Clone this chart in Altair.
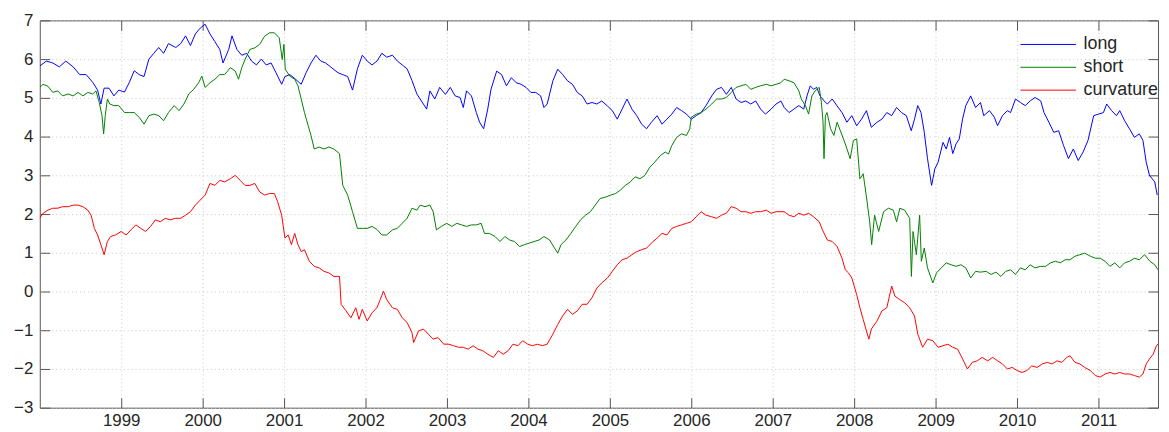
import altair as alt
import pandas as pd

# ---------------- data (decimal years) ----------------
long_t = [1998.00, 1998.08, 1998.16, 1998.24, 1998.32, 1998.41, 1998.49, 1998.57, 1998.65, 1998.71,
          1998.75, 1998.79, 1998.85, 1998.91, 1998.97, 1999.04, 1999.10, 1999.16, 1999.22, 1999.28,
          1999.34, 1999.40, 1999.46, 1999.52, 1999.58, 1999.67, 1999.73, 1999.79, 1999.85, 1999.91,
          1999.97, 2000.03, 2000.09, 2000.15, 2000.21, 2000.25, 2000.32, 2000.36, 2000.42, 2000.48,
          2000.54, 2000.60, 2000.66, 2000.72, 2000.78, 2000.84, 2000.90, 2000.97, 2001.01, 2001.07,
          2001.13, 2001.21, 2001.27, 2001.33, 2001.39, 2001.45, 2001.51, 2001.57, 2001.66, 2001.72,
          2001.78, 2001.84, 2001.90, 2001.96, 2002.02, 2002.08, 2002.14, 2002.20, 2002.26, 2002.33,
          2002.39, 2002.45, 2002.51, 2002.57, 2002.63, 2002.71, 2002.75, 2002.79, 2002.85, 2002.91,
          2002.98, 2003.04, 2003.10, 2003.16, 2003.20, 2003.24, 2003.30, 2003.36, 2003.40, 2003.45,
          2003.50, 2003.54, 2003.61, 2003.67, 2003.73, 2003.79, 2003.85, 2003.91, 2003.97, 2004.03,
          2004.09, 2004.15, 2004.19, 2004.23, 2004.30, 2004.36, 2004.42, 2004.48, 2004.54, 2004.60,
          2004.66, 2004.72, 2004.78, 2004.84, 2004.90, 2004.97, 2005.03, 2005.09, 2005.15, 2005.21,
          2005.27, 2005.33, 2005.39, 2005.45, 2005.51, 2005.58, 2005.64, 2005.70, 2005.76, 2005.82,
          2005.88, 2005.94, 2006.00, 2006.06, 2006.12, 2006.18, 2006.25, 2006.31, 2006.37, 2006.43,
          2006.49, 2006.55, 2006.61, 2006.67, 2006.73, 2006.79, 2006.85, 2006.91, 2006.98, 2007.04,
          2007.10, 2007.14, 2007.20, 2007.26, 2007.32, 2007.38, 2007.42, 2007.46, 2007.50, 2007.54,
          2007.58, 2007.63, 2007.67, 2007.73, 2007.79, 2007.85, 2007.91, 2007.97, 2008.03, 2008.09,
          2008.15, 2008.21, 2008.28, 2008.34, 2008.40, 2008.46, 2008.52, 2008.58, 2008.64, 2008.70,
          2008.74, 2008.78, 2008.82, 2008.86, 2008.90, 2008.95, 2008.99, 2009.03, 2009.09, 2009.13,
          2009.17, 2009.21, 2009.25, 2009.29, 2009.33, 2009.37, 2009.43, 2009.49, 2009.55, 2009.59,
          2009.66, 2009.72, 2009.76, 2009.82, 2009.88, 2009.92, 2009.98, 2010.04, 2010.10, 2010.16,
          2010.22, 2010.29, 2010.33, 2010.39, 2010.45, 2010.51, 2010.57, 2010.63, 2010.69, 2010.75,
          2010.81, 2010.87, 2010.94, 2011.00, 2011.06, 2011.10, 2011.16, 2011.22, 2011.26, 2011.32,
          2011.38, 2011.44, 2011.50, 2011.545, 2011.585, 2011.625, 2011.69, 2011.72]
long_v = [5.82, 5.95, 5.90, 5.80, 5.95, 5.80, 5.60, 5.60, 5.40, 5.20,
          4.84, 5.25, 5.25, 5.05, 5.20, 5.15, 5.40, 5.70, 5.60, 5.55,
          6.00, 6.15, 6.30, 6.15, 6.40, 6.30, 6.40, 6.60, 6.35, 6.65,
          6.80, 6.90, 6.65, 6.45, 6.25, 5.90, 6.25, 6.60, 6.25, 6.10,
          6.15, 5.95, 5.85, 6.00, 5.85, 5.90, 5.65, 5.35, 5.55, 5.60,
          5.50, 5.35, 5.65, 5.90, 6.10, 5.95, 5.90, 5.80, 5.65, 5.60,
          5.55, 5.20, 5.75, 6.10, 5.95, 5.85, 5.95, 6.15, 6.05, 6.10,
          5.95, 5.85, 5.75, 5.45, 5.10, 4.84, 4.71, 5.18, 4.97, 5.27,
          5.09, 5.27, 5.05, 5.01, 4.75, 5.18, 5.05, 4.62, 4.37, 4.20,
          4.71, 5.22, 5.69, 5.60, 5.31, 5.52, 5.39, 5.35, 5.27, 5.14,
          5.14, 5.05, 4.75, 4.84, 5.44, 5.74, 5.60, 5.44, 5.35, 5.14,
          5.05, 4.84, 4.88, 4.84, 4.92, 4.79, 4.67, 4.45, 4.71, 4.97,
          4.71, 4.54, 4.32, 4.20, 4.37, 4.54, 4.32, 4.45, 4.58, 4.75,
          4.67, 4.58, 4.45, 4.54, 4.62, 4.80, 5.05, 5.22, 5.27, 5.09,
          5.27, 4.97, 4.88, 4.92, 4.84, 4.92, 4.71, 4.58, 4.71, 4.84,
          4.92, 4.75, 4.62, 4.71, 4.80, 4.71, 5.05, 5.31, 5.22, 5.27,
          5.05, 4.92, 4.84, 4.97, 4.79, 4.62, 4.37, 4.54, 4.28, 4.45,
          4.67, 4.24, 4.37, 4.45, 4.62, 4.54, 4.75, 4.62, 4.54, 4.15,
          4.45, 4.80, 4.62, 4.11, 3.43, 2.74, 3.17, 3.34, 3.85, 3.68,
          3.98, 3.56, 3.81, 3.94, 4.45, 4.80, 5.05, 4.75, 4.88, 4.54,
          4.67, 4.50, 4.28, 4.54, 4.67, 4.62, 4.97, 4.88, 4.80, 4.92,
          5.01, 4.92, 4.62, 4.37, 4.11, 4.15, 3.77, 3.43, 3.68, 3.38,
          3.60, 3.90, 4.54, 4.58, 4.62, 4.84, 4.67, 4.54, 4.67, 4.41,
          4.20, 3.98, 4.07, 3.90, 3.34, 3.00, 2.83, 2.49]

short_t = [1998.00, 1998.04, 1998.10, 1998.16, 1998.22, 1998.28, 1998.35, 1998.41, 1998.47, 1998.53,
           1998.59, 1998.65, 1998.69, 1998.73, 1998.764, 1998.784, 1998.804, 1998.83, 1998.86, 1998.91,
           1998.97, 1999.04, 1999.10, 1999.16, 1999.22, 1999.28, 1999.34, 1999.40, 1999.46, 1999.52,
           1999.58, 1999.65, 1999.71, 1999.77, 1999.83, 1999.89, 1999.95, 1999.99, 2000.03, 2000.09,
           2000.15, 2000.21, 2000.27, 2000.34, 2000.40, 2000.44, 2000.48, 2000.52, 2000.58, 2000.64,
           2000.70, 2000.76, 2000.82, 2000.88, 2000.94, 2000.977, 2000.998, 2001.014, 2001.07, 2001.13,
           2001.17, 2001.21, 2001.25, 2001.29, 2001.33, 2001.37, 2001.43, 2001.49, 2001.55, 2001.61,
           2001.68, 2001.72, 2001.78, 2001.84, 2001.90, 2001.96, 2002.02, 2002.08, 2002.14, 2002.20,
           2002.26, 2002.33, 2002.39, 2002.45, 2002.51, 2002.57, 2002.63, 2002.67, 2002.73, 2002.79,
           2002.83, 2002.87, 2002.93, 2002.996, 2003.06, 2003.12, 2003.18, 2003.24, 2003.30, 2003.36,
           2003.42, 2003.46, 2003.52, 2003.59, 2003.65, 2003.71, 2003.77, 2003.83, 2003.89, 2003.95,
           2004.01, 2004.07, 2004.13, 2004.19, 2004.26, 2004.32, 2004.36, 2004.40, 2004.46, 2004.52,
           2004.58, 2004.64, 2004.70, 2004.76, 2004.82, 2004.88, 2004.95, 2005.01, 2005.07, 2005.13,
           2005.19, 2005.25, 2005.31, 2005.37, 2005.43, 2005.49, 2005.55, 2005.62, 2005.68, 2005.72,
           2005.76, 2005.82, 2005.88, 2005.94, 2005.98, 2006.00, 2006.06, 2006.12, 2006.18, 2006.25,
           2006.31, 2006.37, 2006.43, 2006.49, 2006.55, 2006.61, 2006.67, 2006.73, 2006.79, 2006.85,
           2006.92, 2006.98, 2007.04, 2007.10, 2007.14, 2007.20, 2007.26, 2007.32, 2007.35, 2007.40,
           2007.44, 2007.48, 2007.52, 2007.57, 2007.597, 2007.617, 2007.629, 2007.646, 2007.666, 2007.71,
           2007.75, 2007.79, 2007.83, 2007.89, 2007.95, 2007.99, 2008.03, 2008.07, 2008.11, 2008.15,
           2008.19, 2008.214, 2008.25, 2008.30, 2008.36, 2008.42, 2008.48, 2008.52, 2008.56, 2008.62,
           2008.681, 2008.702, 2008.722, 2008.763, 2008.803, 2008.824, 2008.86, 2008.90, 2008.965, 2009.01,
           2009.07, 2009.13, 2009.19, 2009.25, 2009.31, 2009.37, 2009.43, 2009.49, 2009.55, 2009.62,
           2009.68, 2009.74, 2009.80, 2009.86, 2009.92, 2009.98, 2010.04, 2010.10, 2010.16, 2010.22,
           2010.29, 2010.35, 2010.41, 2010.47, 2010.53, 2010.59, 2010.65, 2010.71, 2010.77, 2010.83,
           2010.90, 2010.96, 2011.02, 2011.08, 2011.14, 2011.20, 2011.26, 2011.32, 2011.38, 2011.44,
           2011.50, 2011.565, 2011.63, 2011.69, 2011.73]
short_v = [5.27, 5.35, 5.30, 5.14, 5.18, 5.05, 5.10, 5.05, 5.14, 5.05,
           5.14, 5.10, 5.18, 4.88, 4.54, 4.07, 4.54, 4.97, 4.84, 4.80,
           4.80, 4.62, 4.62, 4.62, 4.50, 4.32, 4.54, 4.58, 4.54, 4.41,
           4.62, 4.80, 4.67, 4.84, 5.10, 5.22, 5.39, 5.56, 5.27, 5.39,
           5.48, 5.60, 5.60, 5.78, 5.69, 5.48, 5.78, 5.99, 6.25, 6.29,
           6.38, 6.59, 6.68, 6.68, 6.55, 5.99, 6.38, 5.74, 5.56, 5.48,
           5.31, 4.97, 4.62, 4.32, 4.03, 3.68, 3.73, 3.68, 3.73, 3.68,
           3.56, 2.74, 2.49, 2.06, 1.63, 1.63, 1.63, 1.68, 1.60, 1.46,
           1.46, 1.59, 1.63, 1.76, 1.89, 2.15, 2.10, 2.23, 2.19, 2.23,
           2.06, 1.59, 1.68, 1.76, 1.68, 1.76, 1.72, 1.68, 1.72, 1.72,
           1.76, 1.50, 1.50, 1.42, 1.29, 1.42, 1.33, 1.29, 1.16, 1.21,
           1.25, 1.29, 1.33, 1.42, 1.33, 1.12, 0.99, 1.21, 1.33, 1.50,
           1.68, 1.85, 1.97, 2.06, 2.23, 2.40, 2.44, 2.49, 2.53, 2.62,
           2.74, 2.83, 2.96, 2.91, 3.00, 3.21, 3.34, 3.51, 3.60, 3.55,
           3.77, 3.98, 4.07, 4.03, 4.20, 4.50, 4.58, 4.62, 4.71, 4.84,
           4.97, 4.97, 5.01, 5.14, 5.27, 5.31, 5.35, 5.22, 5.27, 5.31,
           5.35, 5.31, 5.35, 5.39, 5.48, 5.44, 5.39, 5.18, 4.97, 4.80,
           4.58, 5.05, 5.18, 5.27, 4.88, 4.37, 3.43, 4.54, 4.62, 4.20,
           4.03, 4.37, 4.15, 3.81, 3.43, 3.90, 3.94, 2.91, 3.04, 2.44,
           1.80, 1.21, 1.97, 1.55, 2.06, 2.15, 2.10, 1.80, 2.15, 2.10,
           1.89, 0.39, 1.55, 0.95, 1.97, 0.78, 1.12, 0.61, 0.22, 0.48,
           0.61, 0.74, 0.69, 0.65, 0.69, 0.61, 0.35, 0.52, 0.50, 0.52,
           0.44, 0.50, 0.39, 0.52, 0.56, 0.44, 0.61, 0.56, 0.69, 0.61,
           0.65, 0.65, 0.74, 0.78, 0.74, 0.82, 0.82, 0.91, 0.95, 0.99,
           0.91, 0.86, 0.86, 0.78, 0.65, 0.74, 0.61, 0.74, 0.78, 0.86,
           0.82, 0.95, 0.78, 0.69, 0.56]

curv_t = [1998.00, 1998.04, 1998.10, 1998.16, 1998.22, 1998.28, 1998.35, 1998.41, 1998.47, 1998.53,
          1998.59, 1998.63, 1998.67, 1998.71, 1998.75, 1998.79, 1998.83, 1998.87, 1998.93, 1999.00,
          1999.06, 1999.12, 1999.18, 1999.24, 1999.30, 1999.36, 1999.42, 1999.48, 1999.54, 1999.60,
          1999.67, 1999.73, 1999.79, 1999.85, 1999.91, 1999.97, 2000.03, 2000.09, 2000.15, 2000.21,
          2000.27, 2000.34, 2000.40, 2000.46, 2000.52, 2000.58, 2000.64, 2000.70, 2000.76, 2000.82,
          2000.88, 2000.92, 2000.97, 2001.01, 2001.05, 2001.09, 2001.13, 2001.17, 2001.21, 2001.25,
          2001.31, 2001.37, 2001.43, 2001.49, 2001.55, 2001.61, 2001.68, 2001.70, 2001.76, 2001.82,
          2001.88, 2001.92, 2001.96, 2002.02, 2002.08, 2002.14, 2002.18, 2002.22, 2002.26, 2002.33,
          2002.39, 2002.45, 2002.51, 2002.57, 2002.59, 2002.65, 2002.71, 2002.77, 2002.83, 2002.89,
          2002.96, 2003.02, 2003.08, 2003.14, 2003.20, 2003.26, 2003.32, 2003.38, 2003.44, 2003.50,
          2003.57, 2003.63, 2003.69, 2003.75, 2003.81, 2003.87, 2003.93, 2003.99, 2004.05, 2004.11,
          2004.17, 2004.23, 2004.30, 2004.36, 2004.42, 2004.48, 2004.54, 2004.60, 2004.66, 2004.72,
          2004.78, 2004.84, 2004.90, 2004.97, 2005.03, 2005.09, 2005.15, 2005.21, 2005.27, 2005.33,
          2005.39, 2005.45, 2005.51, 2005.58, 2005.64, 2005.70, 2005.76, 2005.82, 2005.88, 2005.94,
          2006.00, 2006.06, 2006.12, 2006.18, 2006.25, 2006.31, 2006.37, 2006.43, 2006.49, 2006.55,
          2006.61, 2006.67, 2006.73, 2006.79, 2006.85, 2006.92, 2006.98, 2007.04, 2007.10, 2007.14,
          2007.20, 2007.26, 2007.32, 2007.38, 2007.44, 2007.50, 2007.57, 2007.61, 2007.67, 2007.73,
          2007.79, 2007.85, 2007.89, 2007.93, 2007.97, 2008.03, 2008.07, 2008.11, 2008.15, 2008.18,
          2008.21, 2008.28, 2008.34, 2008.40, 2008.46, 2008.50, 2008.56, 2008.62, 2008.68, 2008.74,
          2008.78, 2008.84, 2008.90, 2008.965, 2009.03, 2009.09, 2009.15, 2009.21, 2009.27, 2009.33,
          2009.39, 2009.45, 2009.51, 2009.57, 2009.64, 2009.70, 2009.76, 2009.82, 2009.88, 2009.94,
          2010.00, 2010.06, 2010.12, 2010.18, 2010.245, 2010.31, 2010.37, 2010.43, 2010.49, 2010.55,
          2010.61, 2010.65, 2010.71, 2010.77, 2010.83, 2010.90, 2010.96, 2011.02, 2011.08, 2011.14,
          2011.20, 2011.26, 2011.32, 2011.38, 2011.44, 2011.50, 2011.545, 2011.585, 2011.625, 2011.67,
          2011.71, 2011.73]
curv_v = [1.89, 2.02, 2.10, 2.15, 2.15, 2.19, 2.19, 2.23, 2.23, 2.19,
          2.10, 1.97, 1.63, 1.46, 1.21, 0.95, 1.29, 1.42, 1.46, 1.55,
          1.46, 1.59, 1.72, 1.63, 1.55, 1.68, 1.85, 1.80, 1.89, 1.85,
          1.89, 1.89, 1.97, 2.06, 2.23, 2.36, 2.49, 2.79, 2.74, 2.87,
          2.83, 2.91, 3.00, 2.87, 2.74, 2.74, 2.79, 2.57, 2.49, 2.53,
          2.53, 2.32, 1.97, 1.38, 1.46, 1.21, 1.50, 1.21, 1.03, 1.08,
          0.78, 0.65, 0.61, 0.52, 0.48, 0.39, 0.39, -0.33, -0.50, -0.68,
          -0.42, -0.72, -0.46, -0.76, -0.55, -0.42, -0.21, 0.01, -0.21, -0.42,
          -0.46, -0.68, -0.80, -1.06, -1.32, -1.02, -0.97, -1.10, -1.23, -1.19,
          -1.36, -1.36, -1.40, -1.44, -1.44, -1.49, -1.40, -1.49, -1.53, -1.62,
          -1.70, -1.53, -1.62, -1.53, -1.36, -1.40, -1.27, -1.36, -1.40, -1.36,
          -1.40, -1.36, -1.10, -0.85, -0.63, -0.46, -0.59, -0.50, -0.33, -0.33,
          -0.16, 0.09, 0.22, 0.35, 0.52, 0.69, 0.82, 0.86, 0.95, 1.03,
          1.08, 1.12, 1.25, 1.38, 1.50, 1.46, 1.63, 1.68, 1.72, 1.76,
          1.80, 1.93, 2.06, 1.97, 1.93, 1.89, 1.97, 2.02, 2.19, 2.15,
          2.06, 2.06, 2.02, 2.06, 2.06, 2.10, 2.02, 2.06, 2.06, 2.06,
          1.97, 1.93, 2.02, 1.97, 2.02, 1.93, 1.80, 1.59, 1.33, 1.29,
          1.16, 0.86, 0.56, 0.48, 0.35, -0.08, -0.42, -0.72, -1.02, -1.23,
          -0.97, -0.76, -0.50, -0.42, 0.14, -0.12, -0.21, -0.29, -0.42, -0.63,
          -1.10, -1.44, -1.23, -1.27, -1.44, -1.40, -1.36, -1.44, -1.49, -1.74,
          -2.00, -1.83, -1.79, -1.70, -1.79, -1.70, -1.79, -1.87, -2.00, -1.96,
          -2.04, -2.09, -2.04, -1.92, -1.96, -1.87, -1.83, -1.87, -1.79, -1.83,
          -1.70, -1.66, -1.83, -1.87, -1.96, -2.04, -2.17, -2.21, -2.13, -2.09,
          -2.13, -2.09, -2.13, -2.13, -2.17, -2.21, -2.13, -1.87, -1.74, -1.62,
          -1.40, -1.36]

series_names = ["long", "short", "curvature"]
series_colors = ["#0000ff", "#008000", "#ff0000"]
year_ticks = list(range(1999, 2012))
value_ticks = list(range(-3, 8))
x_domain = [1998.0, 2011.73]
y_domain = [-3, 7]

rows = []
for name, ts, vs in zip(series_names, [long_t, short_t, curv_t], [long_v, short_v, curv_v]):
    for t, v in zip(ts, vs):
        rows.append({"year": t, "value": v, "series": name})
df = pd.DataFrame(rows)

W, H = 1126, 390
FONT = "Liberation Sans"
TXT = "#262626"
AX = "#555555"
INWARD = {"expr": "-10"}

xs = alt.Scale(domain=x_domain, nice=False, zero=False)
ys = alt.Scale(domain=y_domain, nice=False, zero=False)

base = alt.Chart(df)

lines = base.mark_line(strokeWidth=1, clip=True).encode(
    x=alt.X("year:Q", scale=xs, title=None,
            axis=alt.Axis(orient="bottom", values=year_ticks, format="d", ticks=True, tickSize=INWARD,
                          tickColor=AX, tickWidth=1, labelPadding=15, labelFont=FONT, labelFontSize=17,
                          labelColor=TXT, domain=False, grid=True, gridColor="#c8c8c8",
                          gridDash=[1, 3], gridWidth=1, labelFlush=False, labelOverlap=False)),
    y=alt.Y("value:Q", scale=ys, title=None,
            axis=alt.Axis(orient="left", values=value_ticks, ticks=True, tickSize=INWARD,
                          tickColor=AX, tickWidth=1, labelPadding=17, labelFont=FONT, labelFontSize=17,
                          labelColor=TXT, domain=False, grid=True, gridColor="#c8c8c8",
                          gridDash=[1, 3], gridWidth=1, labelFlush=False, labelOverlap=False)),
    color=alt.Color("series:N", sort=series_names,
                    scale=alt.Scale(domain=series_names, range=series_colors),
                    legend=alt.Legend(title=None, orient="none", legendX=987, legendY=13,
                                      symbolType="stroke", symbolSize=3136, symbolStrokeWidth=1,
                                      labelFont=FONT, labelFontSize=18, labelColor=TXT,
                                      labelOffset=7, clipHeight=22.5, rowPadding=0, padding=0)),
)

frame_ticks = base.mark_line(opacity=0).encode(
    x=alt.X("year:Q", scale=xs, title=None,
            axis=alt.Axis(orient="top", values=year_ticks, labels=False, ticks=True,
                          tickSize=INWARD, tickColor=AX, tickWidth=1, domain=False, grid=False)),
    y=alt.Y("value:Q", scale=ys, title=None,
            axis=alt.Axis(orient="right", values=value_ticks, labels=False, ticks=True,
                          tickSize=INWARD, tickColor=AX, tickWidth=1, domain=False, grid=False)),
    detail="series:N",
)

chart = alt.layer(lines, frame_ticks).resolve_axis(
    x="independent", y="independent"
).properties(
    width=W, height=H,
    autosize=alt.AutoSizeParams(type="none"),
    padding={"left": 32, "top": 11, "right": 3, "bottom": 23},
    background="white",
).configure_view(stroke=AX, strokeWidth=1)

chart.save("out.html", embed_options={"renderer": "svg", "actions": False})
